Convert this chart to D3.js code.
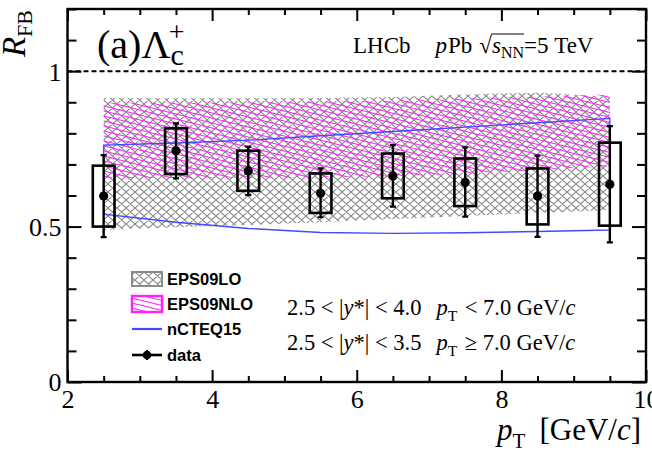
<!DOCTYPE html>
<html>
<head>
<meta charset="utf-8">
<script src="https://cdn.jsdelivr.net/npm/d3@7"></script>
<style>
  html, body { margin: 0; padding: 0; background: #fff; }
  svg { display: block; }
  svg text { white-space: pre; }
</style>
</head>
<body>
<svg id="chart" width="652" height="462"></svg>
<script>
// Lambda_c+ forward-backward ratio vs pT, with nPDF predictions
const ptBins      = [2.5, 3.5, 4.5, 5.5, 6.5, 7.5, 8.5, 9.5];
const rFB         = [0.598, 0.744, 0.679, 0.607, 0.663, 0.642, 0.598, 0.636];
const statHigh    = [0.730, 0.832, 0.757, 0.687, 0.762, 0.755, 0.728, 0.823];
const statLow     = [0.466, 0.655, 0.601, 0.530, 0.564, 0.532, 0.467, 0.449];
const sysHigh     = [0.696, 0.816, 0.744, 0.671, 0.735, 0.719, 0.687, 0.770];
const sysLow      = [0.500, 0.669, 0.615, 0.544, 0.591, 0.566, 0.507, 0.503];

const eps09loHigh  = [0.914, 0.913, 0.913, 0.914, 0.917, 0.925, 0.931, 0.918];
const eps09loLow   = [0.489, 0.498, 0.505, 0.514, 0.524, 0.534, 0.544, 0.553];
const eps09nloHigh = [0.898, 0.898, 0.899, 0.902, 0.906, 0.912, 0.918, 0.926];
const eps09nloLow  = [0.656, 0.656, 0.657, 0.658, 0.662, 0.670, 0.681, 0.694];
const ncteqHigh    = [0.762, 0.769, 0.778, 0.792, 0.806, 0.820, 0.834, 0.848];
const ncteqLow     = [0.540, 0.514, 0.494, 0.481, 0.478, 0.480, 0.484, 0.489];

const xMajorTicks = [2, 4, 6, 8, 10];
const yMajorTicks = [0, 0.5, 1];
const xTickLabels = ["2", "4", "6", "8", "10"];
const yTickLabels = ["0", "0.5", "1"];

const legendLabels = ["EPS09LO", "EPS09NLO", "nCTEQ15", "data"];

const SERIF = "'Liberation Serif', 'Times New Roman', serif";
const SANS  = "'Liberation Sans', Arial, sans-serif";
const BLUE  = "#3f4dff";
const NBSP  = "\u00a0";

const svg = d3.select("#chart");
const x = d3.scaleLinear().domain([2, 10]).range([67.5, 646]);
const y = d3.scaleLinear().domain([0, 1.2]).range([382, 9]);

// hatch patterns
const defs = svg.append("defs");
const px = defs.append("pattern").attr("id", "xhatch")
  .attr("patternUnits", "userSpaceOnUse").attr("width", 9).attr("height", 8);
px.append("path").attr("d", "M0,0L9,8M9,0L0,8M-1,7L1,9M8,-1L10,1M8,9L10,7M-1,1L1,-1")
  .attr("stroke", "#8a8a8a").attr("stroke-width", 1.1).attr("fill", "none");

const pm = defs.append("pattern").attr("id", "mhatch")
  .attr("patternUnits", "userSpaceOnUse").attr("width", 20).attr("height", 5);
pm.append("path").attr("d", "M-20,-5L40,10M-20,-10L40,5M-20,0L40,15")
  .attr("stroke", "#ff22ff").attr("stroke-width", 1.1).attr("fill", "none");

const clip = defs.append("clipPath").attr("id", "plotclip");
clip.append("rect").attr("x", x(2)).attr("y", y(1.2)).attr("width", x(10) - x(2)).attr("height", y(0) - y(1.2));

const plot = svg.append("g").attr("clip-path", "url(#plotclip)");

function bandData(hi, lo) {
  return ptBins.map((p, i) => ({ p, hi: hi[i], lo: lo[i] }));
}
const area = d3.area().x(d => x(d.p)).y0(d => y(d.lo)).y1(d => y(d.hi));

plot.append("path").datum(bandData(eps09loHigh, eps09loLow))
  .attr("d", area).attr("fill", "url(#xhatch)");
plot.append("path").datum(bandData(eps09nloHigh, eps09nloLow))
  .attr("d", area).attr("fill", "url(#mhatch)");
plot.append("path").datum(bandData(ncteqHigh, ncteqLow))
  .attr("d", area).attr("fill", "none").attr("stroke", BLUE).attr("stroke-width", 1.4);

// unity reference
plot.append("line").attr("x1", x(2)).attr("x2", x(10)).attr("y1", y(1)).attr("y2", y(1))
  .attr("stroke", "#000").attr("stroke-width", 2).attr("stroke-dasharray", "5,3");

// data: systematic boxes, statistical bars, points
const halfW = 0.15;
const pts = ptBins.map((p, i) => ({ p, v: rFB[i], sh: statHigh[i], sl: statLow[i], yh: sysHigh[i], yl: sysLow[i] }));
const dg = svg.append("g");
dg.selectAll("rect.sys").data(pts).join("rect").attr("class", "sys")
  .attr("x", d => x(d.p - halfW)).attr("width", d => x(d.p + halfW) - x(d.p - halfW))
  .attr("y", d => y(d.yh)).attr("height", d => y(d.yl) - y(d.yh))
  .attr("fill", "none").attr("stroke", "#000").attr("stroke-width", 2.6);
dg.selectAll("line.stat").data(pts).join("line").attr("class", "stat")
  .attr("x1", d => x(d.p)).attr("x2", d => x(d.p))
  .attr("y1", d => y(d.sh)).attr("y2", d => y(d.sl))
  .attr("stroke", "#000").attr("stroke-width", 2.4);
dg.selectAll("path.cap").data(pts).join("path").attr("class", "cap")
  .attr("d", d => `M${x(d.p) - 3},${y(d.sh)}H${x(d.p) + 3}M${x(d.p) - 3},${y(d.sl)}H${x(d.p) + 3}`)
  .attr("stroke", "#000").attr("stroke-width", 2.2);
dg.selectAll("circle.pt").data(pts).join("circle").attr("class", "pt")
  .attr("cx", d => x(d.p)).attr("cy", d => y(d.v)).attr("r", 4.6).attr("fill", "#000");

// axes with inward ticks
const xMinor = d3.range(2, 10.01, 0.5).filter(v => !xMajorTicks.includes(v));
const yMinor = d3.range(0, 1.201, 0.1).map(v => +v.toFixed(2)).filter(v => !yMajorTicks.includes(v));

function axisGroup(axis, tx, ty) {
  const g = svg.append("g").attr("transform", `translate(${tx},${ty})`).call(axis);
  g.select(".domain").remove();
  g.selectAll(".tick line").attr("stroke", "#000").attr("stroke-width", 2);
  return g;
}
const fmtX = (d) => xTickLabels[xMajorTicks.indexOf(d)];
const fmtY = (d) => yTickLabels[yMajorTicks.indexOf(d)];

const gxb = axisGroup(d3.axisBottom(x).tickValues(xMajorTicks).tickSize(-12).tickPadding(5).tickFormat(fmtX), 0, y(0));
axisGroup(d3.axisBottom(x).tickValues(xMinor).tickSize(-6).tickFormat(""), 0, y(0));
axisGroup(d3.axisTop(x).tickValues(xMajorTicks).tickSize(-12).tickFormat(""), 0, y(1.2));
axisGroup(d3.axisTop(x).tickValues(xMinor).tickSize(-6).tickFormat(""), 0, y(1.2));
const gyl = axisGroup(d3.axisLeft(y).tickValues(yMajorTicks).tickSize(-14).tickPadding(6).tickFormat(fmtY), x(2), 0);
axisGroup(d3.axisLeft(y).tickValues(yMinor).tickSize(-9).tickFormat(""), x(2), 0);
axisGroup(d3.axisRight(y).tickValues(yMajorTicks).tickSize(-14).tickFormat(""), x(10), 0);
axisGroup(d3.axisRight(y).tickValues(yMinor).tickSize(-9).tickFormat(""), x(10), 0);

gxb.selectAll(".tick text").attr("font-family", SERIF).attr("font-size", 26).attr("fill", "#000").attr("dy", "0.8em");
gyl.selectAll(".tick text").attr("font-family", SERIF).attr("font-size", 26).attr("fill", "#000").attr("dy", "0.34em");

// frame
svg.append("rect").attr("x", x(2)).attr("y", y(1.2)).attr("width", x(10) - x(2)).attr("height", y(0) - y(1.2))
  .attr("fill", "none").attr("stroke", "#000").attr("stroke-width", 2.4);

// sequential text runs (mixed italic / sub / superscript)
function runs(parent, tx, ty, items, anchor, rotate) {
  const g = parent.append("g");
  let cx = 0;
  const pos = [];
  items.forEach(it => {
    cx += it.dx || 0;
    const t = g.append("text").attr("x", cx).attr("y", it.dy || 0).text(it.t)
      .attr("font-family", it.family || SERIF).attr("font-size", it.size)
      .attr("font-style", it.italic ? "italic" : "normal")
      .attr("font-weight", it.bold ? "bold" : "normal").attr("fill", "#000");
    const w = t.node().getComputedTextLength();
    pos.push([cx, cx + w]);
    cx += w;
  });
  const shift = anchor === "end" ? -cx : anchor === "middle" ? -cx / 2 : 0;
  g.selectAll("text").attr("transform", `translate(${shift},0)`);
  g.attr("transform", `translate(${tx},${ty})` + (rotate ? ` rotate(${rotate})` : ""));
  return { g, pos: pos.map(p => [p[0] + shift, p[1] + shift]), width: cx };
}

// axis titles
runs(svg, 25, 10, [
  { t: "R", italic: true, size: 33 },
  { t: "FB", size: 22, dy: 7 }
], "end", -90);

runs(svg, 641, 440, [
  { t: "p", italic: true, size: 31 },
  { t: "T", size: 21, dy: 8 },
  { t: "[GeV/", size: 31, dx: 14 },
  { t: "c", italic: true, size: 31 },
  { t: "]", size: 31 }
], "end");

// panel label
runs(svg, 97, 58, [
  { t: "(a)Λ", size: 40 },
  { t: "c", size: 30, dy: 7 },
  { t: "+", size: 28, dx: -15, dy: -17 }
], "start");

// experiment label
const lab = runs(svg, 353, 53, [
  { t: "LHCb", size: 23 },
  { t: "p", italic: true, size: 23, dx: 25 },
  { t: "Pb", size: 23, dx: 1 },
  { t: "√", size: 23, dx: 7 },
  { t: "s", italic: true, size: 23, dx: 0 },
  { t: "NN", size: 16, dy: 5 },
  { t: "=5" + NBSP + "TeV", size: 23 }
], "start");
{
  const x0 = 353 + lab.pos[3][1] - 1, x1 = 353 + lab.pos[5][1];
  svg.append("line").attr("x1", x0).attr("x2", x1).attr("y1", 53 - 19).attr("y2", 53 - 19)
    .attr("stroke", "#000").attr("stroke-width", 1);
}

// kinematic ranges
const rangeRows = [
  ["2.5 < |", "*| < 4.0", NBSP + "< 7.0 GeV/"],
  ["2.5 < |", "*| < 3.5", NBSP + "≥ 7.0 GeV/"]
];
rangeRows.forEach((r, i) => {
  runs(svg, 287, 315 + 35 * i, [
    { t: r[0].replace(/ /g, NBSP), size: 22.5 },
    { t: "y", italic: true, size: 22.5 },
    { t: r[1].replace(/ /g, NBSP), size: 22.5 },
    { t: "p", italic: true, size: 22.5, dx: 15 },
    { t: "T", size: 15.5, dy: 6 },
    { t: r[2].replace(/ /g, NBSP), size: 22.5, dx: 2 },
    { t: "c", italic: true, size: 22.5 }
  ], "start");
});

// legend
const lg = svg.append("g");
const lgX = 132, lgW = 30, rowY = [279, 304, 329, 355];
lg.append("rect").attr("x", lgX).attr("y", rowY[0] - 7).attr("width", lgW).attr("height", 14)
  .attr("fill", "url(#xhatch)").attr("stroke", "#8a8a8a").attr("stroke-width", 2);
lg.append("rect").attr("x", lgX).attr("y", rowY[1] - 8).attr("width", lgW).attr("height", 16)
  .attr("fill", "url(#mhatch)").attr("stroke", "#ff22ff").attr("stroke-width", 2.4);
lg.append("line").attr("x1", lgX).attr("x2", lgX + lgW).attr("y1", rowY[2]).attr("y2", rowY[2])
  .attr("stroke", BLUE).attr("stroke-width", 2.2);
lg.append("line").attr("x1", lgX).attr("x2", lgX + lgW).attr("y1", rowY[3]).attr("y2", rowY[3])
  .attr("stroke", "#000").attr("stroke-width", 2.6);
lg.append("line").attr("x1", lgX + lgW / 2).attr("x2", lgX + lgW / 2).attr("y1", rowY[3] - 5).attr("y2", rowY[3] + 5)
  .attr("stroke", "#000").attr("stroke-width", 2);
lg.append("circle").attr("cx", lgX + lgW / 2).attr("cy", rowY[3]).attr("r", 4.3).attr("fill", "#000");
lg.selectAll("text.lbl").data(legendLabels).join("text").attr("class", "lbl")
  .attr("x", 167).attr("y", (d, i) => rowY[i] + 6)
  .attr("font-family", SANS).attr("font-weight", "bold").attr("font-size", 16.5).attr("fill", "#000")
  .text(d => d);
</script>
</body>
</html>
